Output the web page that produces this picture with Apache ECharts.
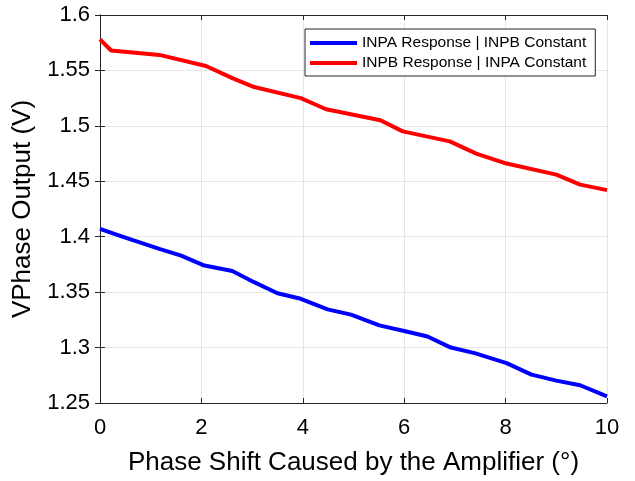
<!DOCTYPE html>
<html>
<head>
    <meta charset="utf-8" />
    <title></title>
    <script src="https://cdn.jsdelivr.net/npm/echarts@6/dist/echarts.min.js"></script>
</head>
<body style="margin:0;background:#fff;">
    <div id="main" style="width: 635px;height:481px;"></div>
    <script type="text/javascript">
        // INPA Response | INPB Constant (blue)
        var blueX = [0, 0.44, 1.17, 1.6, 2.06, 2.61, 3.04, 3.5, 3.96, 4.49, 4.95, 5.51, 6.0, 6.46, 6.92, 7.39, 8.02, 8.51, 9.0, 9.47, 10];
        var blueY = [1.407, 1.400, 1.389, 1.383, 1.374, 1.369, 1.359, 1.349, 1.344, 1.3345, 1.3297, 1.320, 1.315, 1.310, 1.300, 1.295, 1.286, 1.2756, 1.2702, 1.266, 1.256];
        // INPB Response | INPA Constant (red)
        var redX = [0, 0.22, 1.17, 2.09, 2.61, 3.04, 3.96, 4.46, 5.53, 5.97, 6.9, 7.42, 8.02, 9.0, 9.47, 10];
        var redY = [1.578, 1.568, 1.564, 1.554, 1.543, 1.535, 1.525, 1.515, 1.505, 1.495, 1.486, 1.475, 1.466, 1.456, 1.447, 1.442];

        var names = ['INPA Response | INPB Constant', 'INPB Response | INPA Constant'];

        function pairs(xs, ys) {
            var out = [];
            for (var i = 0; i < xs.length; i++) out.push([xs[i], ys[i]]);
            return out;
        }

        var axisColor = '#262626';
        var font = 'Liberation Sans, Arial, sans-serif';
        var myChart = echarts.init(document.getElementById('main'));

        var option = {
            animation: false,
            backgroundColor: '#fff',
            grid: { left: 100, top: 15, right: 28, bottom: 75 },
            legend: {
                data: names,
                orient: 'vertical',
                left: 305,
                top: 29,
                padding: [6, 9, 5, 5],
                itemGap: 4,
                itemWidth: 47,
                itemHeight: 4,
                icon: 'rect',
                backgroundColor: '#fff',
                borderColor: axisColor,
                borderWidth: 1,
                borderRadius: 0,
                textStyle: { fontFamily: font, fontSize: 15.5, color: '#000', lineHeight: 16 }
            },
            xAxis: [{
                type: 'value', min: 0, max: 10, interval: 2,
                name: 'Phase Shift Caused by the Amplifier (°)',
                nameLocation: 'middle', nameGap: 47,
                nameTextStyle: { fontFamily: font, fontSize: 26, color: '#000' },
                axisLine: { show: true, lineStyle: { color: axisColor, width: 1 } },
                axisTick: { show: true, inside: true, length: 5, lineStyle: { color: axisColor } },
                axisLabel: { fontFamily: font, fontSize: 22, color: '#000', margin: 14 },
                splitLine: { show: true, lineStyle: { color: '#e6e6e6', width: 1 } }
            }, {
                type: 'value', min: 0, max: 10, interval: 2, position: 'top',
                axisLine: { show: true, lineStyle: { color: axisColor, width: 1 } },
                axisTick: { show: true, inside: true, length: 5, lineStyle: { color: axisColor } },
                axisLabel: { show: false },
                splitLine: { show: false }
            }],
            yAxis: [{
                type: 'value', min: 1.25, max: 1.6, interval: 0.05,
                name: 'VPhase Output (V)',
                nameLocation: 'middle', nameGap: 57,
                nameTextStyle: { fontFamily: font, fontSize: 26, color: '#000' },
                axisLine: { show: true, lineStyle: { color: axisColor, width: 1 } },
                axisTick: { show: true, inside: true, length: 5, lineStyle: { color: axisColor } },
                axisLabel: {
                    fontFamily: font, fontSize: 22, color: '#000', margin: 10,
                    padding: [8, 0, 0, 0],
                    formatter: function (v) { return String(parseFloat(v.toFixed(2))); }
                },
                splitLine: { show: true, lineStyle: { color: '#e6e6e6', width: 1 } }
            }, {
                type: 'value', min: 1.25, max: 1.6, interval: 0.05, position: 'right',
                axisLine: { show: true, lineStyle: { color: axisColor, width: 1 } },
                axisTick: { show: true, inside: true, length: 5, lineStyle: { color: axisColor } },
                axisLabel: { show: false },
                splitLine: { show: false }
            }],
            series: [{
                name: names[0],
                type: 'line',
                data: pairs(blueX, blueY),
                showSymbol: false,
                color: '#0000ff',
                lineStyle: { color: '#0000ff', width: 4 }
            }, {
                name: names[1],
                type: 'line',
                data: pairs(redX, redY),
                showSymbol: false,
                color: '#ff0000',
                lineStyle: { color: '#ff0000', width: 4 }
            }]
        };
        myChart.setOption(option);
    </script>
</body>
</html>
